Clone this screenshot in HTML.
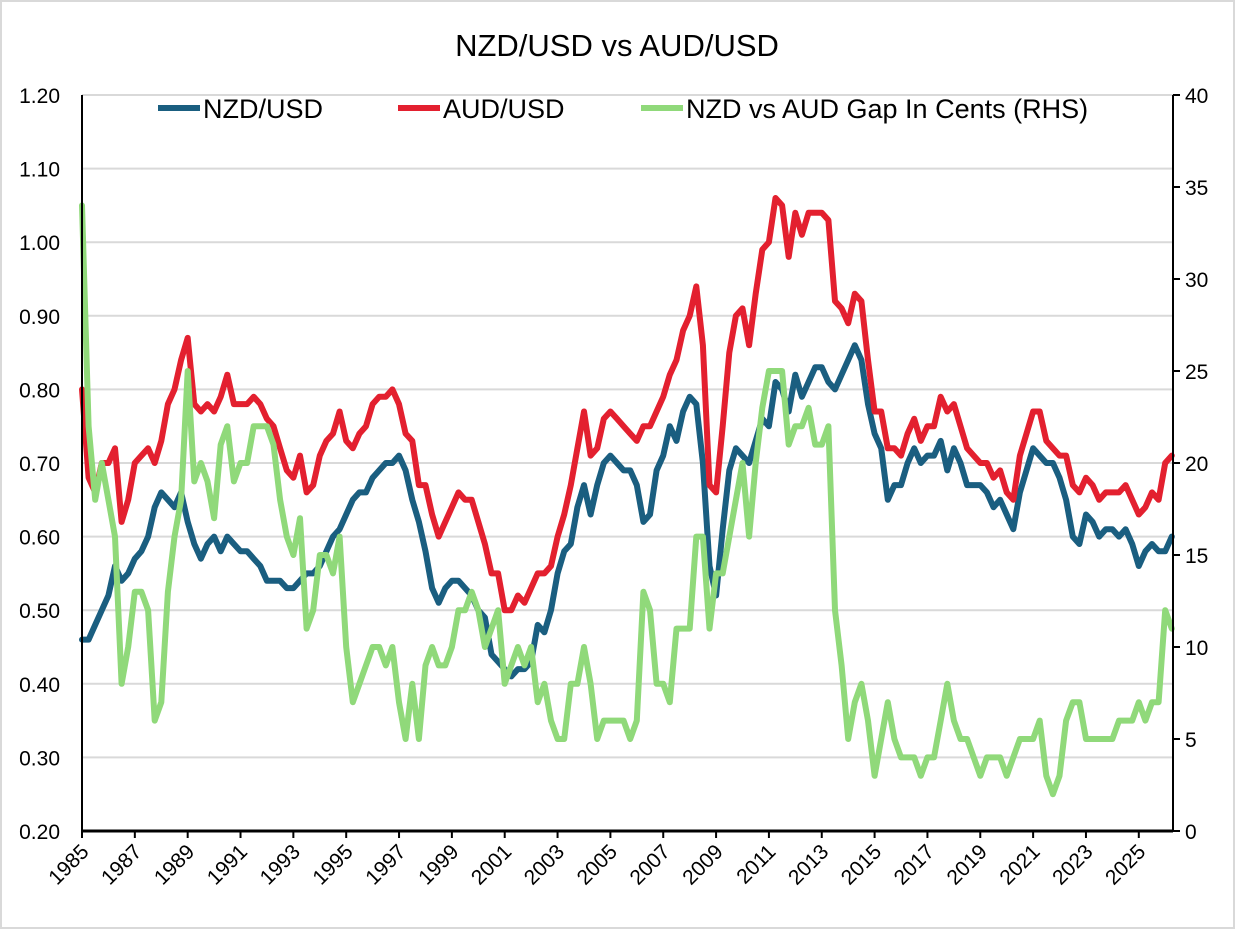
<!DOCTYPE html>
<html><head><meta charset="utf-8"><style>
html,body{margin:0;padding:0;background:#fff;}
svg{display:block;font-family:"Liberation Sans",sans-serif;}
</style></head><body>
<svg id="chart" width="1235" height="929" viewBox="0 0 1235 929">
<rect x="1" y="1" width="1233" height="927" fill="#fff" stroke="#d9d9d9" stroke-width="2"/>
<text x="617" y="56" text-anchor="middle" font-size="31" fill="#000">NZD/USD vs AUD/USD</text>
<g id="grid"></g>
<g id="series"></g>
<g id="axes"></g>
<g>
  <line x1="158" y1="108" x2="200" y2="108" stroke="#1a5e80" stroke-width="6"/>
  <text x="203" y="118" font-size="27">NZD/USD</text>
  <line x1="398" y1="108" x2="440" y2="108" stroke="#e3202f" stroke-width="6"/>
  <text x="443" y="118" font-size="27">AUD/USD</text>
  <line x1="641" y1="108" x2="683" y2="108" stroke="#90d97a" stroke-width="6"/>
  <text x="686" y="118" font-size="27">NZD vs AUD Gap In Cents (RHS)</text>
</g>
</svg>
<script>
const startYear = 1985;
const perYear = 4;
const audValues = [
0.80,0.68,0.66,0.70, 0.70,0.72,0.62,0.65, 0.70,0.71,0.72,0.70, 0.73,0.78,0.80,0.84,
0.87,0.78,0.77,0.78, 0.77,0.79,0.82,0.78, 0.78,0.78,0.79,0.78, 0.76,0.75,0.72,0.69,
0.68,0.71,0.66,0.67, 0.71,0.73,0.74,0.77, 0.73,0.72,0.74,0.75, 0.78,0.79,0.79,0.80,
0.78,0.74,0.73,0.67, 0.67,0.63,0.60,0.62, 0.64,0.66,0.65,0.65, 0.62,0.59,0.55,0.55,
0.50,0.50,0.52,0.51, 0.53,0.55,0.55,0.56, 0.60,0.63,0.67,0.72, 0.77,0.71,0.72,0.76,
0.77,0.76,0.75,0.74, 0.73,0.75,0.75,0.77, 0.79,0.82,0.84,0.88, 0.90,0.94,0.86,0.67,
0.66,0.75,0.85,0.90, 0.91,0.86,0.93,0.99, 1.00,1.06,1.05,0.98, 1.04,1.01,1.04,1.04,
1.04,1.03,0.92,0.91, 0.89,0.93,0.92,0.84, 0.77,0.77,0.72,0.72, 0.71,0.74,0.76,0.73,
0.75,0.75,0.79,0.77, 0.78,0.75,0.72,0.71, 0.70,0.70,0.68,0.69, 0.66,0.65,0.71,0.74,
0.77,0.77,0.73,0.72, 0.71,0.71,0.67,0.66, 0.68,0.67,0.65,0.66, 0.66,0.66,0.67,0.65,
0.63,0.64,0.66,0.65, 0.70,0.71];
const nzdValues = [
0.46,0.46,0.48,0.50, 0.52,0.56,0.54,0.55, 0.57,0.58,0.60,0.64, 0.66,0.65,0.64,0.66,
0.62,0.59,0.57,0.59, 0.60,0.58,0.60,0.59, 0.58,0.58,0.57,0.56, 0.54,0.54,0.54,0.53,
0.53,0.54,0.55,0.55, 0.56,0.58,0.60,0.61, 0.63,0.65,0.66,0.66, 0.68,0.69,0.70,0.70,
0.71,0.69,0.65,0.62, 0.58,0.53,0.51,0.53, 0.54,0.54,0.53,0.52, 0.50,0.49,0.44,0.43,
0.42,0.41,0.42,0.42, 0.43,0.48,0.47,0.50, 0.55,0.58,0.59,0.64, 0.67,0.63,0.67,0.70,
0.71,0.70,0.69,0.69, 0.67,0.62,0.63,0.69, 0.71,0.75,0.73,0.77, 0.79,0.78,0.70,0.56,
0.52,0.61,0.69,0.72, 0.71,0.70,0.73,0.76, 0.75,0.81,0.80,0.77, 0.82,0.79,0.81,0.83,
0.83,0.81,0.80,0.82, 0.84,0.86,0.84,0.78, 0.74,0.72,0.65,0.67, 0.67,0.70,0.72,0.70,
0.71,0.71,0.73,0.69, 0.72,0.70,0.67,0.67, 0.67,0.66,0.64,0.65, 0.63,0.61,0.66,0.69,
0.72,0.71,0.70,0.70, 0.68,0.65,0.60,0.59, 0.63,0.62,0.60,0.61, 0.61,0.60,0.61,0.59,
0.56,0.58,0.59,0.58, 0.58,0.60];
const gapValues = audValues.map((a, i) => Math.max(0, (a - nzdValues[i]) * 100));
const leftTicks = ["0.20","0.30","0.40","0.50","0.60","0.70","0.80","0.90","1.00","1.10","1.20"];
const rightTicks = ["0","5","10","15","20","25","30","35","40"];
const yearLabels = ["1985","1987","1989","1991","1993","1995","1997","1999","2001","2003","2005","2007","2009","2011","2013","2015","2017","2019","2021","2023","2025"];

const NS = "http://www.w3.org/2000/svg";
const X0 = 82, X1 = 1173, YT = 95, YB = 831;
const pxPerYear = 26.42;
function xScale(t){ return X0 + (t - startYear) * pxPerYear; }
function yLeft(v){ return YB - (v - 0.2) / 1.0 * (YB - YT); }
function yRight(v){ return YB - v / 40 * (YB - YT); }
function mk(tag, attrs, parent){ const e = document.createElementNS(NS, tag); for (const k in attrs) e.setAttribute(k, attrs[k]); parent.appendChild(e); return e; }

const grid = document.getElementById('grid');
const axes = document.getElementById('axes');
const series = document.getElementById('series');

leftTicks.forEach(t => {
  const y = yLeft(parseFloat(t));
  if (parseFloat(t) > 0.2) {
    const g = mk('line', {x1:X0, x2:X1, y1:y, y2:y, stroke:'#d9d9d9', 'stroke-width':2}, grid);
    
    
  }
  const tx = mk('text', {x:60, y:y+8, 'text-anchor':'end', 'font-size':21}, axes);
  tx.textContent = t;
  
  
});
rightTicks.forEach(t => {
  const y = yRight(parseFloat(t));
  const tk = mk('line', {x1:X1, x2:X1+7, y1:y, y2:y, stroke:'#000', 'stroke-width':2}, axes);
  
  
  const tx = mk('text', {x:1185, y:y+8, 'font-size':21}, axes);
  tx.textContent = t;
  
  
});

function drawLine(vals, yfn, color, name){
  const pts = vals.map((v, i) => xScale(startYear + i / perYear).toFixed(1) + ',' + yfn(v).toFixed(1)).join(' ');
  const p = mk('polyline', {points:pts, fill:'none', stroke:color, 'stroke-width':6, 'stroke-linejoin':'round', 'stroke-linecap':'round'}, series);
  
  
}
drawLine(nzdValues, yLeft, '#1a5e80', 'nzd-usd-line');
drawLine(audValues, yLeft, '#e3202f', 'aud-usd-line');
drawLine(gapValues, yRight, '#90d97a', 'gap-line');

const la = mk('line', {x1:X0, x2:X0, y1:YT, y2:YB, stroke:'#000', 'stroke-width':2}, axes);


const ra = mk('line', {x1:X1, x2:X1, y1:YT, y2:YB, stroke:'#000', 'stroke-width':2}, axes);


const xa = mk('line', {x1:X0, x2:X1, y1:YB, y2:YB, stroke:'#000', 'stroke-width':3}, axes);



yearLabels.forEach(l => {
  const x = xScale(parseInt(l));
  const tk = mk('line', {x1:x, x2:x, y1:YB, y2:YB+7, stroke:'#000', 'stroke-width':2}, axes);
  
  
  const tx = mk('text', {x:x+8, y:YB+22, 'text-anchor':'end', 'font-size':21, transform:'rotate(-45 '+(x+8)+' '+(YB+22)+')'}, axes);
  tx.textContent = l;
  
  
});
</script>
</body></html>
